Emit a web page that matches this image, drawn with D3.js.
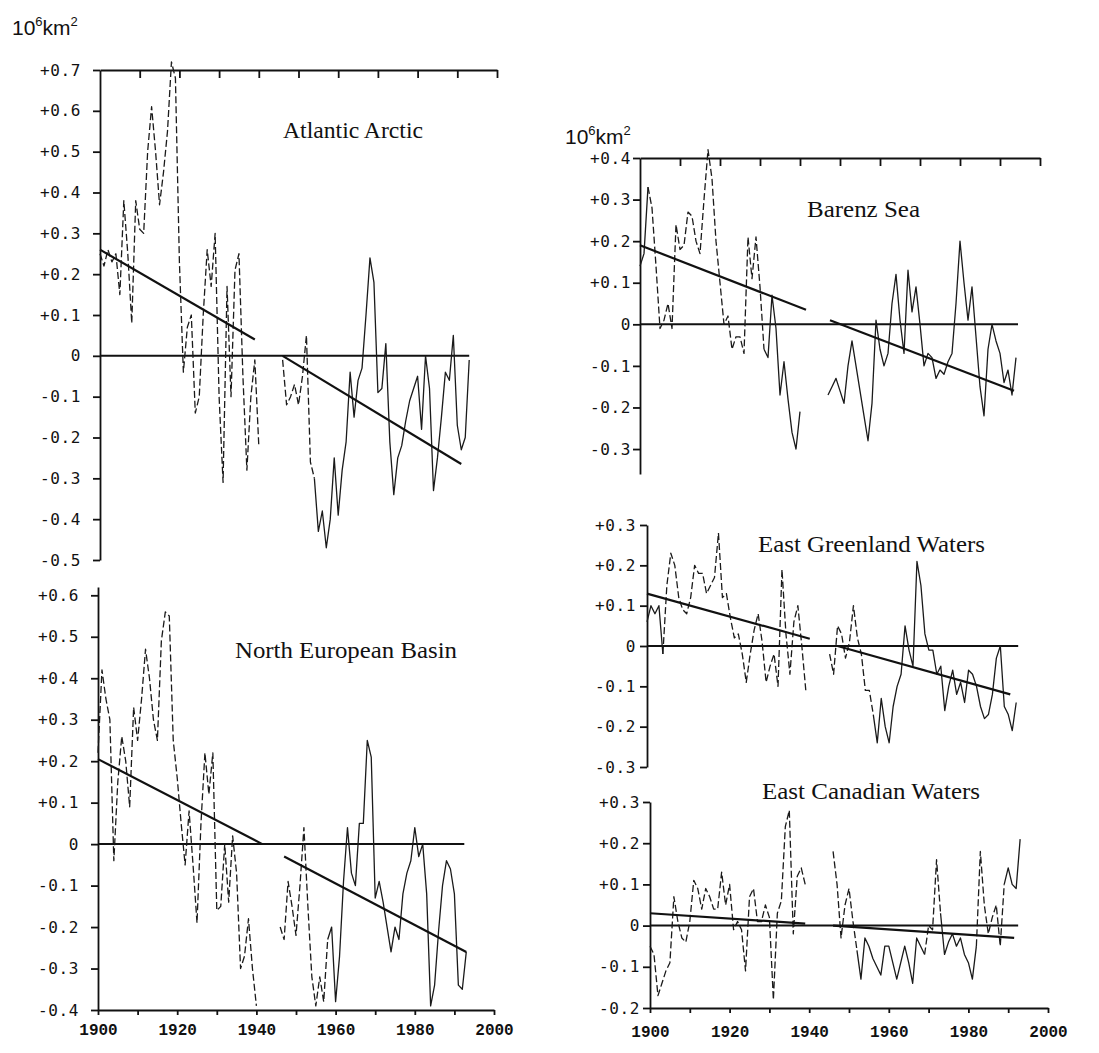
<!DOCTYPE html>
<html>
<head>
<meta charset="utf-8">
<script src="https://cdn.jsdelivr.net/npm/d3@7"></script>
<style>
  body { margin: 0; background: #fff; }
  .axis .domain, .axis line { stroke: #111; stroke-width: 1.8; }
  .axis text { font-family: "DejaVu Sans Mono", monospace; font-size: 16px; letter-spacing: 0.6px; fill: #111; }
  .years text { font-family: "Liberation Mono", monospace; font-size: 16px; font-weight: bold; letter-spacing: 0; }
  .title { font-family: "Liberation Serif", serif; font-size: 23px; fill: #111; }
  .unit { font-family: "Liberation Sans", sans-serif; font-size: 21px; fill: #111; }
</style>
</head>
<body>
<div id="chart"></div>
<script>
// ---- data (anomalies, 10^6 km^2), one value per year ----
var aaEarlyStart = 1900;
var aaEarly = [0.25,0.22,0.26,0.23,0.25,0.15,0.38,0.25,0.08,0.38,
               0.31,0.30,0.50,0.61,0.50,0.37,0.45,0.55,0.72,0.68,
               0.23,-0.04,0.07,0.10,-0.14,-0.10,0.10,0.26,0.17,0.30,
               -0.10,-0.31,0.17,-0.10,0.21,0.25,-0.05,-0.28,-0.10,-0.01,-0.22];
var aaLateStart = 1946;
var aaLate = [-0.01,-0.12,-0.10,-0.07,-0.12,-0.05,0.05,-0.26,-0.30,-0.43,
              -0.38,-0.47,-0.40,-0.25,-0.39,-0.28,-0.21,-0.04,-0.15,-0.06,
              -0.03,0.10,0.24,0.18,-0.09,-0.08,0.03,-0.21,-0.34,-0.25,
              -0.22,-0.16,-0.11,-0.08,-0.05,-0.18,0.00,-0.08,-0.33,-0.25,
              -0.15,-0.04,-0.06,0.05,-0.17,-0.23,-0.20,-0.01];
var aaTrends = [[1900,0.26,1939,0.04],[1946,0.0,1991,-0.265]];
var aaDashed = [[1900,1940],[1946,1954]];
var aaTicks = [0.7,0.6,0.5,0.4,0.3,0.2,0.1,0,-0.1,-0.2,-0.3,-0.4,-0.5];

var nebEarlyStart = 1900;
var nebEarly = [0.22,0.42,0.35,0.30,-0.04,0.15,0.26,0.20,0.09,0.33,
                0.25,0.35,0.47,0.40,0.30,0.25,0.49,0.56,0.55,0.25,
                0.16,0.05,-0.05,0.08,-0.05,-0.19,0.05,0.22,0.12,0.22,
                -0.16,-0.15,0.00,-0.14,0.02,-0.07,-0.30,-0.27,-0.18,-0.30,-0.39];
var nebLateStart = 1946;
var nebLate = [-0.20,-0.23,-0.09,-0.15,-0.22,-0.10,0.04,-0.15,-0.32,-0.39,
               -0.32,-0.38,-0.23,-0.20,-0.38,-0.27,-0.09,0.04,-0.07,-0.10,
               0.05,0.05,0.25,0.21,-0.13,-0.09,-0.14,-0.20,-0.26,-0.20,
               -0.23,-0.12,-0.07,-0.04,0.04,-0.03,0.00,-0.12,-0.39,-0.34,
               -0.21,-0.10,-0.04,-0.06,-0.12,-0.34,-0.35,-0.26];
var nebTrends = [[1900,0.205,1941.5,0.0],[1947,-0.03,1993,-0.26]];
var nebDashed = [[1900,1940],[1946,1958]];
var nebTicks = [0.6,0.5,0.4,0.3,0.2,0.1,0,-0.1,-0.2,-0.3,-0.4];

var bsEarlyStart = 1900;
var bsEarly = [0.14,0.17,0.33,0.28,0.14,-0.01,0.01,0.05,-0.01,0.24,
               0.18,0.19,0.27,0.26,0.20,0.17,0.30,0.42,0.35,0.20,
               0.10,0.00,0.02,-0.06,-0.03,-0.03,-0.07,0.21,0.11,0.21,
               0.09,-0.06,-0.08,0.07,-0.01,-0.17,-0.09,-0.18,-0.26,-0.30,-0.21];
var bsLateStart = 1947;
var bsLate = [-0.17,-0.15,-0.13,-0.16,-0.19,-0.10,-0.04,-0.10,-0.16,-0.22,
              -0.28,-0.19,0.01,-0.06,-0.10,-0.07,0.05,0.12,0.01,-0.07,
              0.13,0.03,0.09,0.00,-0.10,-0.07,-0.08,-0.13,-0.11,-0.12,
              -0.09,-0.07,0.05,0.20,0.10,0.01,0.09,-0.03,-0.15,-0.22,
              -0.06,0.00,-0.04,-0.07,-0.14,-0.11,-0.17,-0.08];
var bsTrends = [[1900,0.19,1941.5,0.035],[1947.5,0.01,1993.5,-0.16]];
var bsDashed = [[1902,1931]];
var bsTicks = [0.4,0.3,0.2,0.1,0,-0.1,-0.2,-0.3];

var egEarlyStart = 1900;
var egEarly = [0.06,0.10,0.08,0.10,-0.02,0.15,0.23,0.20,0.12,0.09,
               0.08,0.12,0.20,0.18,0.18,0.13,0.15,0.17,0.28,0.12,
               0.13,0.07,0.02,0.03,-0.02,-0.09,-0.02,0.04,0.08,0.01,
               -0.09,-0.05,-0.02,-0.10,0.19,0.03,-0.07,0.06,0.10,0.00,-0.11];
var egLateStart = 1946;
var egLate = [-0.02,-0.07,0.05,0.03,-0.03,0.01,0.10,0.02,-0.02,-0.11,
              -0.11,-0.17,-0.24,-0.13,-0.20,-0.24,-0.15,-0.10,-0.07,0.05,
              -0.01,-0.05,0.21,0.15,0.03,-0.01,-0.01,-0.07,-0.05,-0.16,
              -0.10,-0.06,-0.12,-0.09,-0.14,-0.06,-0.07,-0.10,-0.15,-0.18,
              -0.17,-0.12,-0.03,0.00,-0.15,-0.17,-0.21,-0.14];
var egTrends = [[1900,0.13,1941,0.018],[1948,0.0,1991.5,-0.12]];
var egDashed = [[1904,1940],[1946,1957]];
var egTicks = [0.3,0.2,0.1,0,-0.1,-0.2,-0.3];

var ecEarlyStart = 1900;
var ecEarly = [-0.05,-0.07,-0.17,-0.14,-0.11,-0.09,0.07,0.01,-0.03,-0.04,
               0.01,0.11,0.09,0.04,0.09,0.07,0.04,0.04,0.13,0.05,
               0.10,-0.01,0.01,-0.01,-0.11,0.07,0.09,0.01,0.01,0.05,
               0.02,-0.18,0.03,0.06,0.24,0.28,-0.02,0.12,0.14,0.10];
var ecLateStart = 1946;
var ecLate = [0.18,0.10,-0.03,0.05,0.09,0.01,-0.06,-0.13,-0.03,-0.05,
              -0.08,-0.10,-0.12,-0.05,-0.05,-0.09,-0.13,-0.09,-0.05,-0.09,
              -0.14,-0.03,-0.05,-0.07,0.00,-0.01,0.16,0.03,-0.07,-0.04,
              -0.02,-0.05,-0.03,-0.07,-0.09,-0.13,-0.05,0.18,0.05,-0.02,
              0.02,0.05,-0.05,0.10,0.14,0.10,0.09,0.21];
var ecTrends = [[1900,0.03,1939,0.005],[1946,0.0,1991.5,-0.03]];
var ecDashed = [[1900,1939],[1946,1952],[1969,1973],[1982,1989]];
var ecTicks = [0.3,0.2,0.1,0,-0.1,-0.2];

var decades = [1900,1910,1920,1930,1940,1950,1960,1970,1980,1990,2000];

// ---- layout ----
var w = 1099, h = 1053;

var svg = d3.select("#chart")
	.append("svg")
	.attr("width", w)
	.attr("height", h);

var panels = [
	{title: "Atlantic Arctic", tx: 283, ty: 138, tw: 140,
	 xr: [100, 497], yd: [-0.5, 0.7], yr: [560, 70], ticks: aaTicks, pad: 12,
	 series: [[aaEarlyStart, aaEarly], [aaLateStart, aaLate]], dashed: aaDashed, trends: aaTrends,
	 zeroEnd: 1993, top: true, bottom: false},
	{title: "North European Basin", tx: 235, ty: 658, tw: 222,
	 xr: [98, 494], yd: [-0.4, 0.62], yr: [1010, 587], ticks: nebTicks, pad: 12,
	 series: [[nebEarlyStart, nebEarly], [nebLateStart, nebLate]], dashed: nebDashed, trends: nebTrends,
	 zeroEnd: 1992.5, top: false, bottom: true, yearPad: 9},
	{title: "Barenz Sea", tx: 807, ty: 217, tw: 113,
	 xr: [640, 1040], yd: [-0.36, 0.4], yr: [474, 158], ticks: bsTicks, pad: 2,
	 series: [[bsEarlyStart, bsEarly], [bsLateStart, bsLate]], dashed: bsDashed, trends: bsTrends,
	 zeroEnd: 1994.5, top: true, bottom: false},
	{title: "East Greenland Waters", tx: 758, ty: 552, tw: 227,
	 xr: [647, 1044], yd: [-0.3, 0.3], yr: [767, 525], ticks: egTicks, pad: 4,
	 series: [[egEarlyStart, egEarly], [egLateStart, egLate]], dashed: egDashed, trends: egTrends,
	 zeroEnd: 1993.5, top: false, bottom: false},
	{title: "East Canadian Waters", tx: 762, ty: 799, tw: 218,
	 xr: [650, 1048], yd: [-0.2, 0.3], yr: [1008, 802], ticks: ecTicks, pad: 3,
	 series: [[ecEarlyStart, ecEarly], [ecLateStart, ecLate]], dashed: ecDashed, trends: ecTrends,
	 zeroEnd: 1992.5, top: false, bottom: true, yearPad: 13}
];

function fmtTick(d) {
	if (d === 0) return "0";
	return (d > 0 ? "+" : "-") + Math.abs(d).toFixed(1);
}

function inDashed(yr, ranges) {
	return ranges.some(function(r){ return yr >= r[0] && yr <= r[1]; });
}

panels.forEach(function(p){
	var x = d3.scaleLinear().domain([1900, 2000]).range(p.xr);
	var y = d3.scaleLinear().domain(p.yd).range(p.yr);
	var g = svg.append("g");

	// left axis
	g.append("g")
		.attr("class", "axis")
		.attr("transform", "translate(" + x(1900) + ",0)")
		.call(d3.axisLeft(y).tickValues(p.ticks).tickFormat(fmtTick)
			.tickSize(7).tickSizeOuter(0).tickPadding(p.pad));

	// top frame line with decade ticks
	if (p.top) {
		g.append("g")
			.attr("class", "axis")
			.attr("transform", "translate(0," + y(p.yd[1]) + ")")
			.call(d3.axisBottom(x).tickValues(decades.slice(1)).tickFormat("")
				.tickSize(8).tickSizeOuter(0));
	}

	// bottom year axis
	if (p.bottom) {
		g.append("g")
			.attr("class", "axis years")
			.attr("transform", "translate(0," + y(p.yd[0]) + ")")
			.call(d3.axisBottom(x).tickValues(decades)
				.tickFormat(function(d){ return d % 20 === 0 ? d : ""; })
				.tickSize(5).tickSizeOuter(0).tickPadding(p.yearPad));
	}

	// zero line
	g.append("line")
		.attr("x1", x(1900)).attr("x2", x(p.zeroEnd))
		.attr("y1", y(0)).attr("y2", y(0))
		.attr("stroke", "#111").attr("stroke-width", 2);

	var line = d3.line()
		.x(function(d){ return x(d[0]); })
		.y(function(d){ return y(d[1]); });

	// series: split into solid / dashed runs
	p.series.forEach(function(s){
		var pts = s[1].map(function(v, i){ return [s[0] + i, v]; });
		var runs = [];
		for (var i = 0; i < pts.length - 1; i++) {
			var dash = inDashed((pts[i][0] + pts[i+1][0]) / 2, p.dashed);
			var last = runs[runs.length - 1];
			if (last && last.dash === dash) last.pts.push(pts[i+1]);
			else runs.push({dash: dash, pts: [pts[i], pts[i+1]]});
		}
		runs.forEach(function(r){
			g.append("path")
				.datum(r.pts)
				.attr("d", line)
				.attr("fill", "none")
				.attr("stroke", "#1a1a1a")
				.attr("stroke-width", 1.3)
				.attr("stroke-linejoin", "round")
				.attr("stroke-dasharray", r.dash ? "7,3" : null);
		});
	});

	// trend lines
	p.trends.forEach(function(t){
		g.append("line")
			.attr("x1", x(t[0])).attr("y1", y(t[1]))
			.attr("x2", x(t[2])).attr("y2", y(t[3]))
			.attr("stroke", "#111").attr("stroke-width", 2.2);
	});

	g.append("text")
		.attr("class", "title")
		.attr("x", p.tx).attr("y", p.ty)
		.attr("textLength", p.tw)
		.attr("lengthAdjust", "spacingAndGlyphs")
		.text(p.title);
});

// unit labels
function unit(x0, y0) {
	var t = svg.append("text").attr("class", "unit").attr("x", x0).attr("y", y0);
	t.append("tspan").text("10");
	t.append("tspan").attr("dy", -9).attr("font-size", 13).text("6");
	t.append("tspan").attr("dy", 9).text("km");
	t.append("tspan").attr("dy", -9).attr("font-size", 13).text("2");
}
unit(12, 35);
unit(565, 144);
</script>
</body>
</html>
